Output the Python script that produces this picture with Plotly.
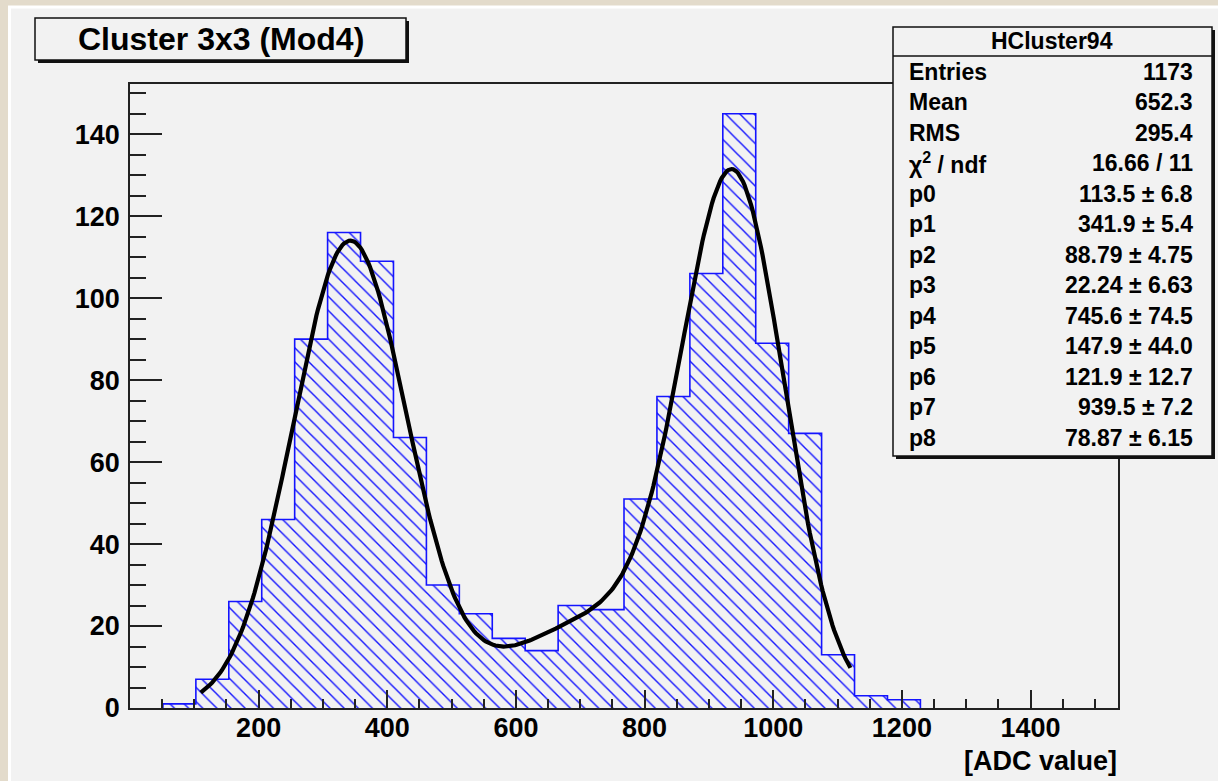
import numpy as np
import plotly.graph_objects as go

# Histogram definition: 30 bins over [0, 1536] ADC counts
hist_min = 0.0
hist_max = 1536.0
n_bins = 30
bin_counts = [0, 1, 7, 26, 46, 90, 116, 109, 66, 30, 23, 17, 14, 25, 24,
              51, 76, 106, 145, 89, 67, 13, 3, 2, 0, 0, 0, 0, 0, 0]

# Fit parameters (gaus + gaus + gaus) from the stats box
fit_params = [113.5, 341.9, 88.79, 22.24, 745.6, 147.9, 121.9, 939.5, 78.87]
fit_range = [110.0, 1120.0]

stats_title = "HCluster94"
stats_labels = ["Entries", "Mean", "RMS", "χ<sup>2</sup> / ndf",
                "p0", "p1", "p2", "p3", "p4", "p5", "p6", "p7", "p8"]
stats_values = ["1173", "652.3", "295.4", "16.66 / 11",
                "113.5 ± 6.8", "341.9 ± 5.4", "88.79 ± 4.75", "22.24 ± 6.63",
                "745.6 ± 74.5", "147.9 ± 44.0", "121.9 ± 12.7", "939.5 ± 7.2",
                "78.87 ± 6.15"]

title_text = "Cluster 3x3 (Mod4)"
x_title = "[ADC value]"

# ---- page geometry (pixels) ----
FIG_W, FIG_H = 1218, 781
L, R, T, B = 130, 1118, 84, 708
PW, PH = R - L, B - T

def fx(p):
    return (p - L) / PW

def fy(p):
    return (B - p) / PH

FONT = "Liberation Sans, Arial, Helvetica, sans-serif"
BLUE = "rgb(20,20,255)"
CANVAS = "#f2f2f2"
PAGE = "#e3dbcb"

# ---- histogram step outline (first to last filled bin) ----
bw = (hist_max - hist_min) / n_bins
edges = [hist_min + i * bw for i in range(n_bins + 1)]
nz = [i for i, c in enumerate(bin_counts) if c > 0]
first, last = nz[0], nz[-1]
step_x = [edges[first]] + [edges[i] for i in range(first, last + 1)] + [edges[last + 1]]
step_y = [0] + [bin_counts[i] for i in range(first, last + 1)] + [0]

def fit_func(x, p):
    g = lambda a, m, s: a * np.exp(-0.5 * ((x - m) / s) ** 2)
    return g(p[0], p[1], p[2]) + g(p[3], p[4], p[5]) + g(p[6], p[7], p[8])

fx_vals = np.linspace(fit_range[0], fit_range[1], 400)
fy_vals = fit_func(fx_vals, fit_params)

fig = go.Figure()
fig.add_trace(go.Scatter(
    x=step_x, y=step_y, mode="lines", line=dict(color=BLUE, width=1.6, shape="hv"),
    fill="tozeroy", fillcolor="rgba(0,0,0,0)",
    fillpattern=dict(shape="\\", fgcolor=BLUE, bgcolor="rgba(0,0,0,0)",
                     size=10, solidity=0.14, fgopacity=1),
    hoverinfo="skip", showlegend=False))
fig.add_trace(go.Scatter(
    x=fx_vals, y=fy_vals, mode="lines", line=dict(color="black", width=4.2),
    hoverinfo="skip", showlegend=False))

shapes = []
# canvas
shapes.append(dict(type="rect", xref="paper", yref="paper", layer="below",
                   x0=fx(9.5), x1=fx(1240), y0=fy(7), y1=fy(800),
                   fillcolor=CANVAS, line=dict(color="white", width=3)))

def pave(x0, y0, x1, y1, shadow=3):
    shapes.append(dict(type="rect", xref="paper", yref="paper", layer="above",
                       x0=fx(x0 + shadow), x1=fx(x1 + shadow),
                       y0=fy(y0 + shadow), y1=fy(y1 + shadow),
                       fillcolor="#111", line=dict(width=0)))
    shapes.append(dict(type="rect", xref="paper", yref="paper", layer="above",
                       x0=fx(x0), x1=fx(x1), y0=fy(y0), y1=fy(y1),
                       fillcolor=CANVAS, line=dict(color="#111", width=1.5)))

pave(35, 18, 406, 60)
pave(893, 27, 1212, 456)
shapes.append(dict(type="line", xref="paper", yref="paper", layer="above",
                   x0=fx(893), x1=fx(1212), y0=fy(56), y1=fy(56),
                   line=dict(color="#111", width=1.5)))

annotations = []
annotations.append(dict(xref="paper", yref="paper", x=fx(221), y=fy(39),
                        text=title_text, showarrow=False, xanchor="center", yanchor="middle",
                        font=dict(family=FONT, size=32, color="black", weight="bold")))
annotations.append(dict(xref="paper", yref="paper", x=fx(1052), y=fy(41.5),
                        text=stats_title, showarrow=False, xanchor="center", yanchor="middle",
                        font=dict(family=FONT, size=23, color="black", weight="bold")))
for i, (lab, val) in enumerate(zip(stats_labels, stats_values)):
    yc = 71.7 + 30.5 * i
    annotations.append(dict(xref="paper", yref="paper", x=fx(907), y=fy(yc),
                            text=lab, showarrow=False, xanchor="left", yanchor="middle",
                            font=dict(family=FONT, size=23, color="black", weight="bold")))
    annotations.append(dict(xref="paper", yref="paper", x=fx(1195), y=fy(yc),
                            text=val, showarrow=False, xanchor="right", yanchor="middle",
                            font=dict(family=FONT, size=23, color="black", weight="bold")))
annotations.append(dict(xref="paper", yref="paper", x=fx(1119), y=fy(761),
                        text=x_title, showarrow=False, xanchor="right", yanchor="middle",
                        font=dict(family=FONT, size=27, color="black", weight="bold")))

tickfont = dict(family=FONT, size=27, color="black", weight="bold")
fig.update_layout(
    width=FIG_W, height=FIG_H,
    margin=dict(l=L, r=FIG_W - R, t=T, b=FIG_H - B, pad=0),
    paper_bgcolor=PAGE, plot_bgcolor="rgba(0,0,0,0)",
    shapes=shapes, annotations=annotations, showlegend=False,
    xaxis=dict(range=[hist_min, hist_max], showgrid=False, zeroline=False,
               showline=True, linecolor="#222", linewidth=1.6, mirror=True,
               ticks="inside", ticklen=18, tickwidth=1.6, tickcolor="#222",
               tickvals=[200, 400, 600, 800, 1000, 1200, 1400],
               tickfont=tickfont, ticklabelstandoff=-5,
               minor=dict(ticks="inside", ticklen=9, tickwidth=1.6, tickcolor="#222",
                          dtick=50, tick0=0, showgrid=False)),
    yaxis=dict(range=[0, 152.25], showgrid=False, zeroline=False,
               showline=True, linecolor="#222", linewidth=1.6, mirror=True,
               ticks="inside", ticklen=32, tickwidth=1.6, tickcolor="#222",
               tickvals=[0, 20, 40, 60, 80, 100, 120, 140],
               tickfont=tickfont, ticklabelstandoff=3,
               minor=dict(ticks="inside", ticklen=16, tickwidth=1.6, tickcolor="#222",
                          dtick=5, tick0=0, showgrid=False)),
)

fig.write_html("out.html")
